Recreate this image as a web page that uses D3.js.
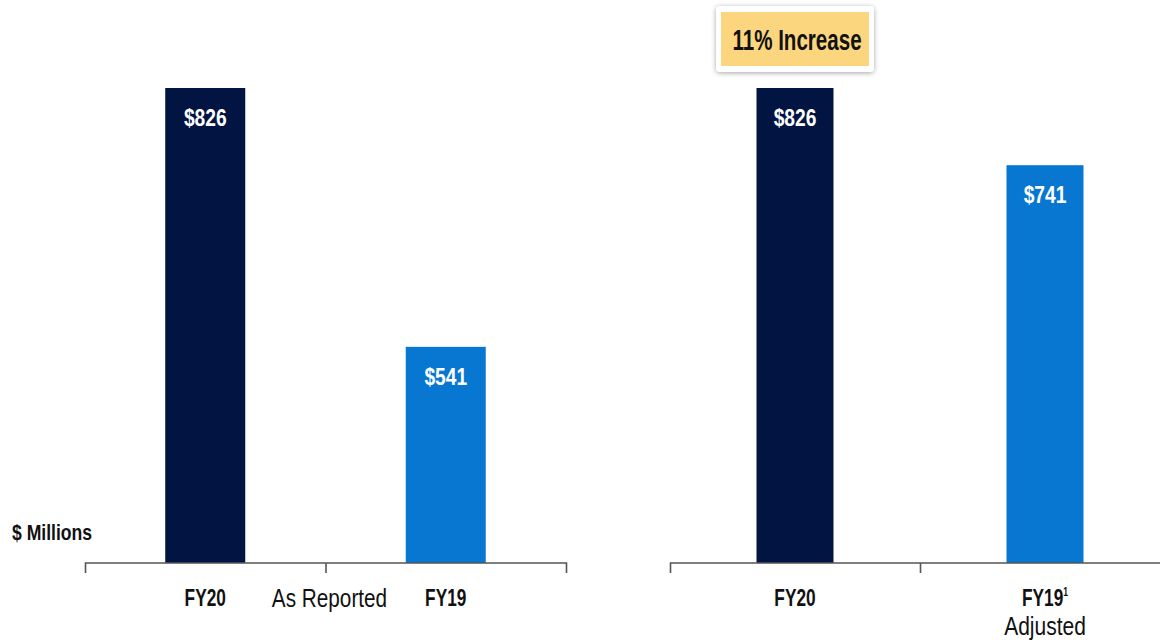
<!DOCTYPE html>
<html>
<head>
<meta charset="utf-8">
<script src="https://cdn.jsdelivr.net/npm/d3@7"></script>
<style>
  html, body { margin: 0; padding: 0; background: #ffffff; }
  svg { display: block; }
  text { font-family: "Liberation Sans", Arial, sans-serif; }
</style>
</head>
<body>
<svg id="chart" width="1160" height="642"></svg>
<script>
// Operating results, $ millions
const reportedCategories = ["FY20", "FY19"];
const reportedValues = [826, 541];
const adjustedCategories = ["FY20", "FY19"];
const adjustedValues = [826, 741];
const valueLabels = ["$826", "$541", "$826", "$741"];
const reportedGroupLabel = "As Reported";
const adjustedSubLabel = "Adjusted";
const unitLabel = "$ Millions";
const badgeText = "11% Increase";

const colors = { current: "#011442", prior: "#0877d1" };

const svg = d3.select("#chart");

// Condensed text: place at (x, y) and squeeze horizontally
function place(sel, x, y, sx) {
  return sel.attr("transform", (d, i) => {
    const xx = typeof x === "function" ? x(d, i) : x;
    const yy = typeof y === "function" ? y(d, i) : y;
    return `translate(${xx},${yy}) scale(${sx},1)`;
  });
}

// Shared value scale (truncated baseline)
const baseY = 563, topY = 88;
const y = d3.scaleLinear().domain([303, 826]).range([baseY, topY]);

const defs = svg.append("defs");
const shadow = defs.append("filter").attr("id", "badgeShadow")
  .attr("x", "-20%").attr("y", "-30%").attr("width", "140%").attr("height", "160%");
shadow.append("feDropShadow").attr("dx", 0).attr("dy", 1).attr("stdDeviation", 2.5)
  .attr("flood-color", "#000").attr("flood-opacity", 0.35);

function panel(cfg) {
  const g = svg.append("g");
  const x = d3.scaleBand().domain(cfg.categories).range([cfg.x0, cfg.x1]).paddingInner(0).paddingOuter(0);
  const barW = cfg.barWidth;
  const cx = (d, i) => x(cfg.categories[i]) + x.bandwidth() / 2;

  g.selectAll("rect.bar").data(cfg.values).join("rect")
    .attr("class", "bar")
    .attr("x", (d, i) => cx(d, i) - barW / 2)
    .attr("width", barW)
    .attr("y", d => y(d))
    .attr("height", d => baseY - y(d))
    .attr("fill", (d, i) => i === 0 ? colors.current : colors.prior);

  g.selectAll("text.val").data(cfg.values).join("text")
    .attr("class", "val")
    .attr("text-anchor", "middle")
    .attr("font-size", 24)
    .attr("font-weight", "bold")
    .attr("fill", "#ffffff")
    .text((d, i) => cfg.labels[i])
    .call(place, cx, d => y(d) + 38, 0.8);

  // Axis line with ticks at band boundaries
  const axis = d3.axisBottom(x).tickSize(0).tickFormat("");
  const ag = g.append("g").attr("transform", `translate(0,${baseY})`).call(axis);
  ag.select(".domain").attr("stroke", "#555").attr("stroke-width", 1.6).attr("d",
    `M${cfg.x0 + 0.5},10V0H${cfg.x1 + 0.5}V10`);
  const edges = cfg.categories.slice(1).map(c => x(c));
  ag.selectAll("line.edge").data(edges).join("line")
    .attr("class", "edge")
    .attr("x1", d => d + 0.5).attr("x2", d => d + 0.5)
    .attr("y1", 0).attr("y2", 10)
    .attr("stroke", "#555").attr("stroke-width", 1.6);

  g.selectAll("text.cat").data(cfg.categories).join("text")
    .attr("class", "cat")
    .attr("text-anchor", "middle")
    .attr("font-size", 24)
    .attr("font-weight", "bold")
    .attr("fill", "#111")
    .each(function (d, i) {
      const t = d3.select(this);
      t.append("tspan").text(d);
      if (cfg.footnote && i === 1) {
        t.append("tspan").attr("font-size", 12).attr("dy", -10).text("1");
      }
    })
    .call(place, d => x(d) + x.bandwidth() / 2, 606, 0.72);
  return { g, x };
}

const left = panel({
  categories: reportedCategories, values: reportedValues,
  labels: valueLabels.slice(0, 2), x0: 85, x1: 566, barWidth: 80
});
left.g.append("text")
  .attr("text-anchor", "middle").attr("font-size", 25).attr("fill", "#111")
  .text(reportedGroupLabel)
  .call(place, (85 + 566) / 2 + 4, 607, 0.83);

const right = panel({
  categories: adjustedCategories, values: adjustedValues,
  labels: valueLabels.slice(2, 4), x0: 670, x1: 1170, barWidth: 77, footnote: true
});
right.g.append("text")
  .attr("text-anchor", "middle").attr("font-size", 25).attr("fill", "#111")
  .text(adjustedSubLabel)
  .call(place, right.x("FY19") + right.x.bandwidth() / 2, 635, 0.84);

svg.append("text")
  .attr("font-size", 22).attr("font-weight", "bold").attr("fill", "#111")
  .text(unitLabel)
  .call(place, 12, 540, 0.8);

// Highlight badge above the adjusted comparison
const badge = svg.append("g");
badge.append("rect").attr("x", 716).attr("y", 6).attr("width", 158).attr("height", 66)
  .attr("rx", 4).attr("fill", "#ffffff").attr("filter", "url(#badgeShadow)");
badge.append("rect").attr("x", 721).attr("y", 12).attr("width", 148).attr("height", 54)
  .attr("fill", "#fbd67f");
badge.append("text")
  .attr("text-anchor", "middle").attr("font-size", 29).attr("font-weight", "bold").attr("fill", "#111")
  .text(badgeText)
  .call(place, 797, 50, 0.71);
</script>
</body>
</html>
